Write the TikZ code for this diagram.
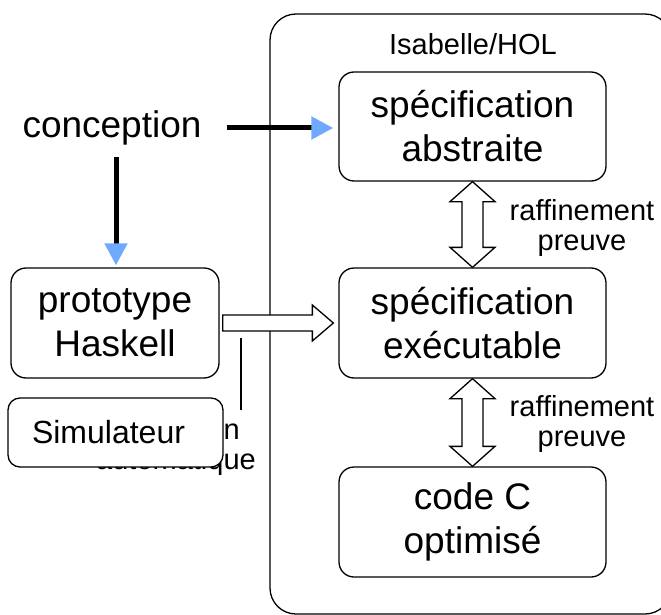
\documentclass[tikz,border=0pt]{standalone}
\usepackage{fontspec}
\setmainfont{Liberation Sans}
\usetikzlibrary{arrows.meta,calc}
\definecolor{tipblue}{RGB}{112,170,255}
\tikzset{
  box/.style={draw, line width=1.3pt, rounded corners=15pt, align=center, inner sep=0pt, font=\fontsize{37}{44}\selectfont},
  lbl/.style={align=center, inner sep=0pt, font=\fontsize{29}{30}\selectfont},
  thickarrow/.style={line width=5pt, -{Triangle[length=22pt,width=22pt,color=tipblue]}},
  hollow/.style={draw, line width=1.3pt, fill=white, line join=miter},
}
\begin{document}
\begin{tikzpicture}[x=1pt,y=-1pt]
\useasboundingbox (0,0) rectangle (661,615);
\clip (0,0) rectangle (661,615);
% outer frame
\node[draw, line width=1.3pt, rounded corners=26pt, minimum width=401pt, minimum height=600pt, inner sep=0pt] (frame) at (470.5,314) {};
\node[lbl] (isa) at (473,44) {Isabelle/HOL};
% boxes
\node[box, minimum width=267pt, minimum height=109pt] (abs) at (472.5,126.5) {spécification\\abstraite};
\node[box, minimum width=267pt, minimum height=110pt] (exe) at (472.5,323) {spécification\\exécutable};
\node[box, minimum width=267pt, minimum height=110pt] (code) at (472.5,522) {code C\\optimisé};
\node[box, minimum width=208pt, minimum height=110pt] (proto) at (115,323) {prototype\\Haskell};
\node[font=\fontsize{37}{44}\selectfont, inner sep=0pt] (conc) at (112,128) {conception};
% labels
\node[lbl] (r1) at (582,228) {raffinement\\preuve};
\node[lbl] (r2) at (582,424) {raffinement\\preuve};
\node[lbl] (trad) at (176,447) {traduction\\automatique};
\node[box, fill=white, minimum width=215pt, minimum height=69pt, rounded corners=12pt] (sim) at (115.5,432.5) {};
\node[font=\fontsize{32}{36}\selectfont, inner sep=0pt] (simtext) at (sim.center) [xshift=-7pt] {Simulateur};
% vertical bar
\coordinate (barTop) at (241,338);
\coordinate (barBot) at (241,410);
\draw[line width=2pt] (barTop) -- (barBot);
% thick arrows
\draw[thickarrow, shorten >=5pt] ($(conc.east)+(25,0)$) -- (abs.west |- conc.east);
\draw[thickarrow, shorten >=2pt] ($(conc.center)+(4,29)$) -- (proto.north -| {$(conc.center)+(4,0)$});
% double hollow arrows
\foreach \a/\b in {abs/exe, exe/code}{
  \path[hollow] ($(\a.south)+(0,0)$) -- ++(22.5,20) -- ++(-12,0)
     -- ($(\b.north)+(10.5,-20)$) -- ++(12,0) -- (\b.north)
     -- ++(-22.5,-20) -- ++(12,0)
     -- ($(\a.south)+(-10.5,20)$) -- ++(-12,0) -- cycle;
}
% horizontal hollow arrow
\path[hollow] ($(proto.east)+(3,-8)$) -- ($(exe.west)+(-26,-8)$) -- ++(0,-10) -- ($(exe.west)+(-5,0)$)
   -- ($(exe.west)+(-26,18)$) -- ++(0,-10) -- ($(proto.east)+(3,8)$) -- cycle;
\end{tikzpicture}
\end{document}
